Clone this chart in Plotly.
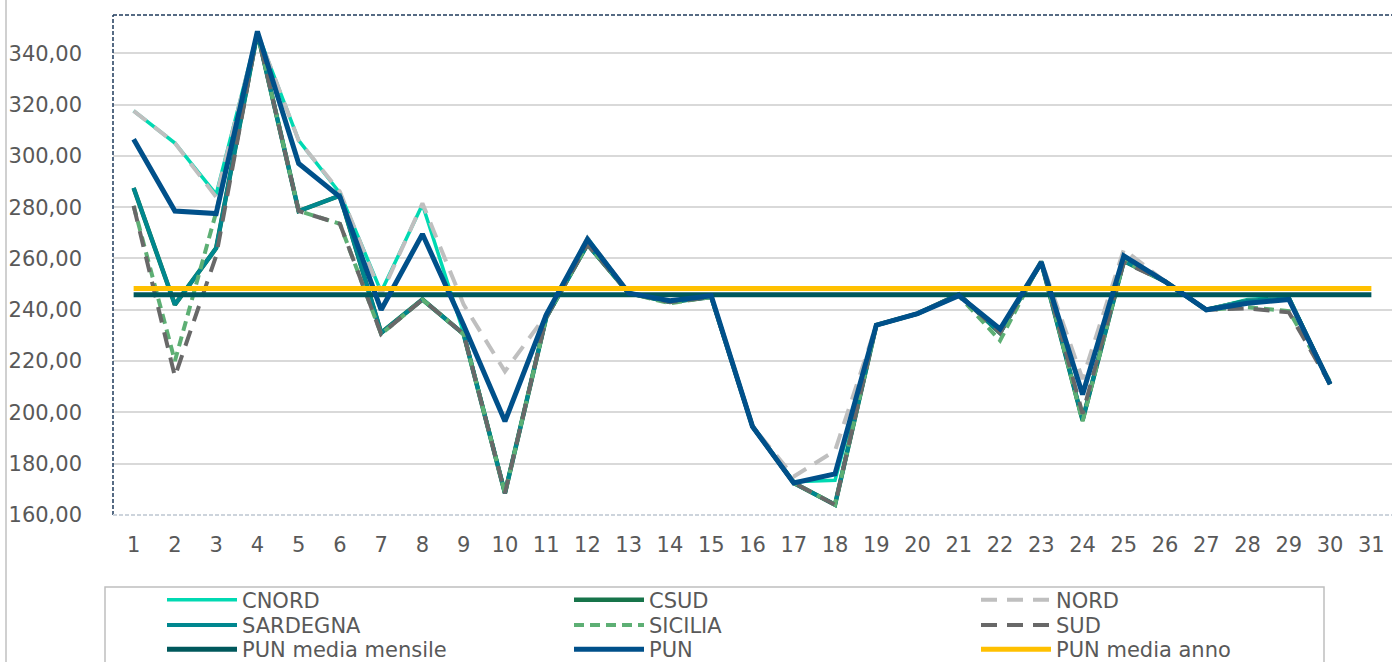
import plotly.graph_objects as go

# ---------------- data ----------------
days = list(range(1, 32))

CNORD = [317.5, 305.0, 285.0, 348.0, 306.0, 285.5, 247.0, 281.0, 231.0, 169.0,
         237.0, 268.0, 246.5, 243.0, 245.0, 194.5, 173.0, 173.5, 234.0, 238.5,
         246.0, 231.0, 259.0, 197.0, 260.0, 251.0, 240.0, 244.0, 245.0, 211.0, None]
CSUD = [287.5, 242.0, 264.0, 348.0, 278.5, 284.5, 231.0, 244.0, 230.5, 168.5,
        237.0, 265.5, 246.5, 243.0, 245.0, 194.5, 172.5, 164.0, 234.0, 238.5,
        246.0, 231.0, 258.5, 197.0, 259.0, 251.0, 240.0, 243.5, 244.5, 211.0, None]
NORD = [317.5, 305.0, 284.0, 348.0, 306.0, 286.0, 246.0, 281.5, 242.0, 216.0,
        238.0, 268.0, 246.5, 243.5, 245.0, 194.5, 175.0, 185.0, 234.0, 238.5,
        246.0, 232.0, 259.0, 213.0, 263.5, 251.0, 240.0, 243.5, 244.5, 211.0, None]
SARDEGNA = [287.5, 242.0, 264.0, 348.0, 278.5, 284.5, 231.0, 244.0, 230.5, 168.5,
            237.0, 265.5, 246.5, 243.0, 245.0, 194.5, 172.5, 164.0, 234.0, 238.5,
            246.0, 231.0, 258.5, 197.0, 259.0, 251.0, 240.0, 243.5, 244.5, 211.0, None]
SICILIA = [280.5, 220.0, 278.0, 348.0, 278.5, 273.5, 230.5, 244.0, 230.5, 168.5,
           237.0, 265.5, 246.5, 242.5, 245.0, 194.5, 172.5, 164.0, 234.0, 238.5,
           245.5, 228.0, 259.0, 196.5, 259.0, 251.0, 240.0, 241.0, 239.5, 212.0, None]
SUD = [280.5, 214.0, 261.0, 348.0, 278.5, 273.5, 230.5, 244.0, 230.5, 168.5,
       237.0, 265.5, 246.5, 243.0, 245.0, 194.5, 172.5, 164.0, 234.0, 238.5,
       246.0, 231.0, 258.5, 199.5, 258.5, 251.0, 240.0, 240.5, 239.0, 211.0, None]
PUN = [306.5, 278.5, 277.5, 348.5, 297.0, 284.0, 240.0, 269.5, 234.0, 196.5,
       238.0, 267.5, 246.5, 243.5, 245.5, 194.5, 172.5, 176.0, 234.0, 238.5,
       245.5, 232.5, 258.5, 207.0, 261.0, 251.0, 240.0, 242.5, 244.0, 211.0, None]
PUN_MEDIA_MENSILE = [245.9] * 31
PUN_MEDIA_ANNO = [248.3] * 31

y_ticks = [160, 180, 200, 220, 240, 260, 280, 300, 320, 340]

FONT = "DejaVu Sans"
TXT = "#595959"

# name, values, colour, width, dash, legend row
series = [
    ("CNORD", CNORD, "#00D9B2", 3.5, "solid", "legend"),
    ("CSUD", CSUD, "#17744A", 4.5, "solid", "legend"),
    ("NORD", NORD, "#BFBFBF", 4, "16px,10px", "legend"),
    ("SARDEGNA", SARDEGNA, "#00878F", 4, "solid", "legend2"),
    ("SICILIA", SICILIA, "#5DAF74", 4, "10px,6px", "legend2"),
    ("SUD", SUD, "#686868", 4, "16px,10px", "legend2"),
    ("PUN media mensile", PUN_MEDIA_MENSILE, "#00585C", 5, "solid", "legend3"),
    ("PUN", PUN, "#00508A", 5, "solid", "legend3"),
    ("PUN media anno", PUN_MEDIA_ANNO, "#FFC000", 5, "solid", "legend3"),
]

fig = go.Figure()
for name, vals, color, width, dash, leg in series:
    fig.add_trace(go.Scatter(
        x=days, y=vals, name=name, mode="lines", legend=leg,
        line=dict(color=color, width=width, dash=dash),
        connectgaps=False,
    ))

PLOT_W, PLOT_H, ML, MT = 1279, 500, 113, 15


def px_x(x):
    return (x - ML) / PLOT_W


def px_y(y):
    return (MT + PLOT_H - y) / PLOT_H


def row_legend(yc):
    return dict(
        orientation="h",
        x=px_x(162), xanchor="left",
        y=px_y(yc), yanchor="middle",
        borderwidth=0, bgcolor="rgba(0,0,0,0)",
        font=dict(family=FONT, size=21, color=TXT),
        itemwidth=70,
        entrywidth=322,
        traceorder="normal",
    )


fig.update_layout(
    width=1392, height=662,
    margin=dict(l=ML, r=0, t=MT, b=662 - MT - PLOT_H, autoexpand=False),
    paper_bgcolor="white", plot_bgcolor="white",
    separators=",.",
    font=dict(family=FONT, size=21, color=TXT),
    showlegend=True,
    legend=row_legend(600),
    legend2=row_legend(625.3),
    legend3=row_legend(649.5),
    xaxis=dict(
        range=[0.5, 31.5],
        tickmode="array", tickvals=days, ticktext=[str(d) for d in days],
        showgrid=False, zeroline=False, showline=False,
        ticks="", ticklabelstandoff=15,
        tickfont=dict(family=FONT, size=21, color=TXT),
    ),
    yaxis=dict(
        range=[160, 354.9],
        tickmode="array", tickvals=y_ticks, tickformat=".2f",
        showgrid=True, gridcolor="#D9D9D9", gridwidth=1.5,
        zeroline=False, showline=False,
        ticks="", ticklabelstandoff=30,
        tickfont=dict(family=FONT, size=21, color=TXT),
    ),
    shapes=[
        # plot-area dashed frame
        dict(type="line", xref="paper", yref="paper", x0=0, x1=0, y0=0, y1=1,
             line=dict(color="#1F3B5C", width=1.5, dash="4px,2px")),
        dict(type="line", xref="paper", yref="paper", x0=0, x1=1, y0=1, y1=1,
             line=dict(color="#1F3B5C", width=1.5, dash="4px,2px")),
        dict(type="line", xref="paper", yref="paper", x0=0, x1=1, y0=0, y1=0,
             line=dict(color="#CDD4DC", width=2, dash="4px,2px")),
        # outer chart border on the left
        dict(type="line", xref="paper", yref="paper",
             x0=px_x(6), x1=px_x(6), y0=px_y(700), y1=px_y(0),
             line=dict(color="#D0D0D0", width=2)),
        # legend frame
        dict(type="rect", xref="paper", yref="paper",
             x0=px_x(105), x1=px_x(1324), y0=px_y(720), y1=px_y(587),
             line=dict(color="#BFBFBF", width=1.5), fillcolor="rgba(0,0,0,0)"),
    ],
)

fig.write_html(
    "out.html",
    config={"displayModeBar": False},
    post_script="document.body.style.margin='0';document.body.style.overflow='hidden';",
)
